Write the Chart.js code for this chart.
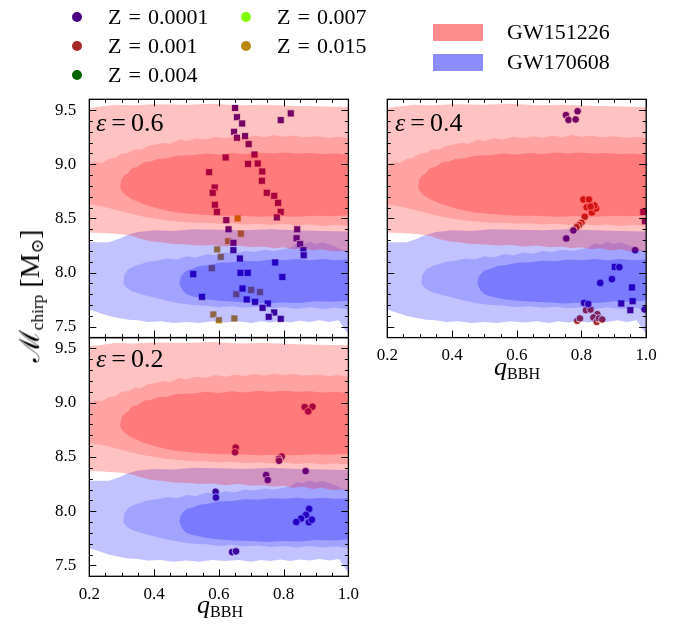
<!DOCTYPE html>
<html>
<head>
<meta charset="utf-8">
<script src="https://cdn.jsdelivr.net/npm/chart.js@4.4.0/dist/chart.umd.min.js"></script>
<style>
  body { margin: 0; background: #fff; }
  #wrap { position: relative; width: 681px; height: 626px; font-family: 'Liberation Serif', 'DejaVu Serif', serif; color: #000; }
  canvas { position: absolute; left: 0; top: 0; }
  .t { position: absolute; white-space: nowrap; line-height: 1; font-family: 'Liberation Serif', 'DejaVu Serif', serif; }
  .dot { position: absolute; width: 10px; height: 10px; border-radius: 50%; }
  .patch { position: absolute; width: 50px; height: 17px; }
  sub { font-size: 0.62em; vertical-align: -0.25em; line-height: 0; }
</style>
</head>
<body>
<div id="wrap">
  <canvas id="c1" width="681" height="626"></canvas>
  <canvas id="c2" width="681" height="626"></canvas>
  <canvas id="c3" width="681" height="626"></canvas>
  <div id="legend"></div>
  <div class="t" style="left:96px;top:110px;font-size:26px"><i>ε</i><span style="margin:0 5px">=</span>0.6</div>
  <div class="t" style="left:395px;top:110px;font-size:26px"><i>ε</i><span style="margin:0 5px">=</span>0.4</div>
  <div class="t" style="left:96px;top:346px;font-size:26px"><i>ε</i><span style="margin:0 5px">=</span>0.2</div>
  <div class="t" style="left:220px;top:592px;font-size:26px;transform:translateX(-50%)"><i>q</i><sub>BBH</sub></div>
  <div class="t" style="left:517px;top:354px;font-size:26px;transform:translateX(-50%)"><i>q</i><sub>BBH</sub></div>
  <div class="t" style="left:30px;top:296px;font-size:28px;transform:translate(-50%,-50%) rotate(-90deg)">ℳ<sub>chirp</sub> [M<sub>⊙</sub>]</div>
</div>
<script>
// metallicity legend
const zLabels = ['0.0001', '0.001', '0.004', '0.007', '0.015'];
const zColors = ['#4b0082', '#a52a2a', '#006400', '#7fff00', '#b8860b'];
const gwLabels = ['GW151226', 'GW170608'];

// axis ticks
const xMajorTicks = [0.2, 0.4, 0.6, 0.8, 1.0];
const xMinorTicks = [0.25, 0.3, 0.35, 0.45, 0.5, 0.55, 0.65, 0.7, 0.75, 0.85, 0.9, 0.95];
const yMajorTicks = [7.5, 8.0, 8.5, 9.0, 9.5];
const yMinorTicks = [7.6, 7.7, 7.8, 7.9, 8.1, 8.2, 8.3, 8.4, 8.6, 8.7, 8.8, 8.9, 9.1, 9.2, 9.3, 9.4];

// GW151226 credible regions (outer -> inner), outlines in (q, Mchirp)
const gw151226Outer = [[0.2,9.52],[0.24,9.535],[0.28,9.55],[0.34,9.545],[0.4,9.555],[0.5,9.55],[0.58,9.56],[0.66,9.545],[0.74,9.55],[0.82,9.54],[0.9,9.535],[1.0,9.53],
  [1.0,8.19],[0.98,8.2],[0.95,8.195],[0.92,8.215],[0.89,8.205],[0.86,8.225],[0.83,8.215],[0.8,8.235],[0.77,8.225],[0.74,8.24],[0.7,8.235],[0.66,8.25],
  [0.62,8.24],[0.58,8.255],[0.54,8.25],[0.5,8.26],[0.46,8.265],[0.42,8.28],[0.39,8.29],[0.36,8.31],[0.33,8.34],[0.3,8.355],[0.27,8.36],[0.24,8.365],[0.2,8.37]];
const gw151226Mid = [[0.2,8.63],[0.2,9.0],[0.22,9.02],[0.24,9.015],[0.26,9.05],[0.28,9.06],[0.3,9.1],[0.32,9.105],[0.34,9.14],[0.36,9.135],[0.38,9.17],
  [0.4,9.18],[0.43,9.2],[0.45,9.19],[0.48,9.23],[0.5,9.215],[0.53,9.24],[0.56,9.23],[0.59,9.255],[0.62,9.24],[0.65,9.26],[0.68,9.245],[0.71,9.265],
  [0.74,9.25],[0.77,9.27],[0.8,9.255],[0.83,9.265],[0.86,9.25],[0.9,9.26],[0.94,9.245],[0.97,9.255],[1.0,9.24],
  [1.0,8.43],[0.96,8.44],[0.92,8.43],[0.88,8.445],[0.84,8.435],[0.8,8.45],[0.76,8.44],[0.72,8.45],[0.68,8.445],[0.64,8.455],[0.6,8.45],
  [0.56,8.46],[0.52,8.46],[0.48,8.47],[0.44,8.48],[0.4,8.5],[0.36,8.52],[0.32,8.55],[0.28,8.58],[0.24,8.61]];
const gw151226Inner = [[0.295,8.8],[0.3,8.87],[0.31,8.9],[0.32,8.92],[0.33,8.96],[0.35,8.98],[0.37,9.02],[0.39,9.025],[0.41,9.05],[0.44,9.055],[0.47,9.08],
  [0.52,9.085],[0.56,9.1],[0.6,9.09],[0.64,9.105],[0.68,9.095],[0.72,9.11],[0.76,9.1],[0.8,9.11],[0.84,9.1],[0.88,9.105],[0.92,9.095],[0.96,9.1],[1.0,9.09],
  [1.0,8.53],[0.95,8.52],[0.9,8.525],[0.84,8.515],[0.78,8.52],[0.72,8.515],[0.66,8.525],[0.6,8.525],[0.55,8.535],[0.5,8.545],[0.46,8.56],[0.42,8.585],
  [0.39,8.61],[0.36,8.64],[0.33,8.68],[0.31,8.72],[0.298,8.76]];

// GW170608 credible regions (outer -> inner)
const gw170608Outer = [[0.2,7.66],[0.2,8.28],[0.26,8.28],[0.29,8.31],[0.32,8.35],[0.35,8.375],[0.4,8.39],[0.46,8.385],[0.52,8.4],[0.6,8.395],[0.68,8.39],
  [0.76,8.4],[0.84,8.39],[0.92,8.385],[1.0,8.38],
  [1.0,7.43],[0.97,7.56],[0.94,7.545],[0.91,7.56],[0.88,7.545],[0.85,7.555],[0.82,7.54],[0.79,7.555],[0.76,7.54],[0.73,7.55],[0.7,7.535],[0.66,7.55],
  [0.62,7.54],[0.58,7.55],[0.54,7.535],[0.5,7.545],[0.46,7.535],[0.42,7.55],[0.38,7.545],[0.35,7.56],[0.32,7.565],[0.29,7.58],[0.26,7.6],[0.23,7.63]];
const gw170608Mid = [[0.305,7.9],[0.308,7.98],[0.32,8.03],[0.34,8.06],[0.36,8.08],[0.38,8.1],[0.41,8.11],[0.44,8.13],[0.47,8.12],[0.5,8.15],[0.53,8.14],
  [0.56,8.17],[0.59,8.16],[0.62,8.185],[0.65,8.175],[0.68,8.2],[0.71,8.19],[0.74,8.21],[0.77,8.2],[0.8,8.215],[0.82,8.23],[0.84,8.27],[0.86,8.26],
  [0.88,8.285],[0.9,8.265],[0.92,8.28],[0.94,8.26],[0.96,8.24],[0.98,8.21],[1.0,8.2],
  [1.0,7.66],[0.96,7.675],[0.92,7.665],[0.88,7.68],[0.84,7.665],[0.8,7.68],[0.76,7.67],[0.72,7.685],[0.68,7.675],[0.64,7.69],[0.6,7.68],[0.56,7.695],
  [0.52,7.7],[0.48,7.715],[0.44,7.74],[0.4,7.77],[0.36,7.8],[0.33,7.83],[0.315,7.86]];
const gw170608Inner = [[0.478,7.9],[0.482,7.96],[0.49,7.99],[0.5,8.02],[0.52,8.035],[0.54,8.06],[0.57,8.07],[0.6,8.09],[0.64,8.095],[0.68,8.11],[0.72,8.105],
  [0.76,8.12],[0.8,8.115],[0.84,8.125],[0.88,8.115],[0.92,8.125],[0.96,8.115],[1.0,8.12],
  [1.0,7.74],[0.95,7.73],[0.9,7.735],[0.85,7.72],[0.8,7.725],[0.75,7.715],[0.7,7.725],[0.65,7.73],[0.6,7.74],[0.56,7.755],[0.52,7.78],[0.5,7.8],[0.487,7.84]];

// epsilon = 0.6 (squares)
const eps06Z0001 = [[0.65,9.52],[0.656,9.435],[0.672,9.377],[0.822,9.47],[0.791,9.408],[0.647,9.3],[0.656,9.245],[0.681,9.26],[0.692,9.186],
  [0.621,9.063],[0.71,9.09],[0.69,9.004],[0.72,9.007],[0.734,8.934],[0.57,8.927],[0.733,8.848],[0.587,8.786],[0.581,8.737],[0.748,8.737],
  [0.771,8.709],[0.783,8.644],[0.588,8.626],[0.594,8.561],[0.791,8.561],[0.779,8.51],[0.623,8.484],[0.63,8.4],[0.645,8.275],[0.842,8.4],
  [0.84,8.317],[0.851,8.263],[0.861,8.207],[0.862,8.16],[0.645,8.207],[0.665,8.13],[0.774,8.094],[0.521,7.986],[0.667,7.998],[0.689,7.998],
  [0.796,7.96],[0.673,7.853],[0.548,7.776],[0.686,7.752],[0.712,7.73],[0.751,7.715],[0.735,7.675],[0.771,7.632],[0.754,7.592],[0.791,7.573]];
const eps06Z015 = [[0.658,8.5],[0.668,8.36],[0.629,8.29],[0.595,8.214],[0.606,8.146],[0.578,8.04],[0.654,7.8],[0.7,7.84],[0.727,7.82],
  [0.583,7.614],[0.6,7.56],[0.648,7.577]];

// epsilon = 0.4
const eps04Z0001 = [[0.752,9.454],[0.788,9.49],[0.76,9.41],[0.782,9.414],[0.753,8.315],[0.775,8.39],[0.966,8.207],[0.917,8.05],[0.858,7.905],
  [0.894,7.94],[0.995,7.66],[0.808,7.72],[0.821,7.71]];
const eps04Z001 = [[0.806,8.675],[0.823,8.675],[0.816,8.604],[0.832,8.555],[0.845,8.592],[0.84,8.62],[0.828,8.61],[0.81,8.515],[0.8,8.46],
  [0.793,8.44],[0.785,8.42],[0.814,7.653],[0.828,7.659],[0.849,7.616],[0.837,7.586],[0.787,7.555],[0.847,7.545],[0.854,7.577],[0.795,7.577],[0.864,7.567]];
const eps04SquareZ0001 = [[0.991,8.56],[0.996,8.475],[0.903,8.053],[0.956,7.863],[0.923,7.715],[0.958,7.736],[0.951,7.653]];

// epsilon = 0.2 (circles)
const eps02Z0001 = [[0.865,8.96],[0.889,8.963],[0.876,8.92],[0.652,8.586],[0.65,8.543],[0.794,8.503],[0.785,8.482],[0.786,8.465],[0.868,8.37],
  [0.746,8.333],[0.751,8.287],[0.59,8.179],[0.591,8.126],[0.879,8.021],[0.869,7.966],[0.854,7.932],[0.839,7.9],[0.878,7.898],[0.887,7.922],
  [0.641,7.623],[0.653,7.63]];

const RED = ['rgba(255,0,0,0.24)', 'rgba(255,0,0,0.17)', 'rgba(255,0,0,0.25)'];
const BLUE = ['rgba(0,0,255,0.24)', 'rgba(0,0,255,0.17)', 'rgba(0,0,255,0.25)'];
const FONT = "'Liberation Serif', 'DejaVu Serif', serif";

const toXY = arr => arr.map(p => ({ x: p[0], y: p[1] }));

function pointSet(pts, color, style) {
  return {
    type: 'scatter',
    data: toXY(pts),
    pointStyle: style,
    pointRadius: style === 'rect' ? 5 : 3.8,
    backgroundColor: color,
    borderColor: '#ffffff',
    borderWidth: 0.8,
    order: 10
  };
}

function contourSet(poly, color, order) {
  return {
    type: 'line',
    data: toXY(poly),
    fill: 'shape',
    backgroundColor: color,
    borderColor: 'rgba(0,0,0,0)',
    borderWidth: 0,
    pointRadius: 0,
    tension: 0,
    order: order
  };
}

function contourSets() {
  return [
    contourSet(gw170608Outer, BLUE[0], 6),
    contourSet(gw170608Mid, BLUE[1], 5),
    contourSet(gw170608Inner, BLUE[2], 4),
    contourSet(gw151226Outer, RED[0], 3),
    contourSet(gw151226Mid, RED[1], 2),
    contourSet(gw151226Inner, RED[2], 1)
  ];
}

// frame + inward ticks on all four sides
const frameTicks = {
  id: 'frameTicks',
  afterDatasetsDraw(chart) {
    const { ctx, chartArea: a, scales: { x, y } } = chart;
    ctx.save();
    ctx.strokeStyle = '#000';
    ctx.lineWidth = 1;
    ctx.beginPath();
    const vt = (vals, len) => vals.forEach(v => {
      const px = Math.round(x.getPixelForValue(v)) + 0.5;
      ctx.moveTo(px, a.bottom); ctx.lineTo(px, a.bottom - len);
      ctx.moveTo(px, a.top); ctx.lineTo(px, a.top + len);
    });
    const ht = (vals, len) => vals.forEach(v => {
      const py = Math.round(y.getPixelForValue(v)) + 0.5;
      ctx.moveTo(a.left, py); ctx.lineTo(a.left + len, py);
      ctx.moveTo(a.right, py); ctx.lineTo(a.right - len, py);
    });
    vt(xMajorTicks, 7); vt(xMinorTicks, 3.5);
    ht(yMajorTicks, 7); ht(yMinorTicks, 3.5);
    ctx.stroke();
    ctx.lineWidth = 1.3;
    ctx.strokeRect(a.left, a.top, a.right - a.left, a.bottom - a.top);
    ctx.restore();
  }
};

const Y_W = 60, X_H = 40;

function makePanel(id, area, showX, showY, pointSets) {
  new Chart(document.getElementById(id), {
    type: 'scatter',
    data: { datasets: pointSets.concat(contourSets()) },
    options: {
      responsive: false,
      animation: false,
      events: [],
      layout: { padding: { left: area.left - Y_W, top: area.top, right: 681 - area.right, bottom: 626 - area.bottom - X_H } },
      plugins: { legend: { display: false }, tooltip: { enabled: false } },
      scales: {
        x: {
          type: 'linear', min: 0.2, max: 1.0,
          grid: { display: false, drawTicks: false }, border: { display: false },
          afterBuildTicks: s => { s.ticks = xMajorTicks.map(v => ({ value: v })); },
          afterFit: s => { s.height = X_H; s.paddingLeft = 0; s.paddingRight = 0; },
          ticks: { display: showX, padding: 8, color: '#000', font: { family: FONT, size: 17 }, callback: v => v.toFixed(1) }
        },
        y: {
          type: 'linear', min: 7.4, max: 9.6,
          grid: { display: false, drawTicks: false }, border: { display: false },
          afterBuildTicks: s => { s.ticks = yMajorTicks.map(v => ({ value: v })); },
          afterFit: s => { s.width = Y_W; s.paddingTop = 0; s.paddingBottom = 0; },
          ticks: { display: showY, padding: 13, color: '#000', font: { family: FONT, size: 17 }, callback: v => v.toFixed(1) }
        }
      }
    },
    plugins: [frameTicks]
  });
}

makePanel('c1', { left: 89.3, top: 99.3, right: 348.4, bottom: 337.6 }, false, true, [
  pointSet(eps06Z0001, zColors[0], 'rect'),
  pointSet(eps06Z015, zColors[4], 'rect')
]);
makePanel('c2', { left: 387.3, top: 99.3, right: 646.2, bottom: 337.6 }, true, false, [
  pointSet(eps04Z0001, zColors[0], 'circle'),
  pointSet(eps04Z001, zColors[1], 'circle'),
  pointSet(eps04SquareZ0001, zColors[0], 'rect')
]);
makePanel('c3', { left: 89.3, top: 337.6, right: 348.4, bottom: 576.3 }, true, true, [
  pointSet(eps02Z0001, zColors[0], 'circle')
]);

// legend (HTML)
const legend = document.getElementById('legend');
const zPos = [[77, 17], [77, 46], [77, 75], [246, 17], [246, 46]];
zLabels.forEach((lab, i) => {
  const [cx, cy] = zPos[i];
  const d = document.createElement('div');
  d.className = 'dot';
  d.style.left = (cx - 5) + 'px'; d.style.top = (cy - 5) + 'px';
  d.style.background = zColors[i];
  legend.appendChild(d);
  const t = document.createElement('div');
  t.className = 't';
  t.style.left = (cx + 31) + 'px'; t.style.top = (cy - 11) + 'px'; t.style.fontSize = '22px';
  t.innerHTML = 'Z<span style="margin:0 7px">=</span>' + lab;
  legend.appendChild(t);
});
const gwColors = ['rgba(255,0,0,0.45)', 'rgba(0,0,255,0.45)'];
gwLabels.forEach((lab, i) => {
  const cy = 32 + i * 30;
  const p = document.createElement('div');
  p.className = 'patch';
  p.style.left = '433px'; p.style.top = (cy - 8.5) + 'px'; p.style.background = gwColors[i];
  legend.appendChild(p);
  const t = document.createElement('div');
  t.className = 't';
  t.style.left = '507px'; t.style.top = (cy - 11) + 'px'; t.style.fontSize = '22px';
  t.textContent = lab;
  legend.appendChild(t);
});
</script>
</body>
</html>
